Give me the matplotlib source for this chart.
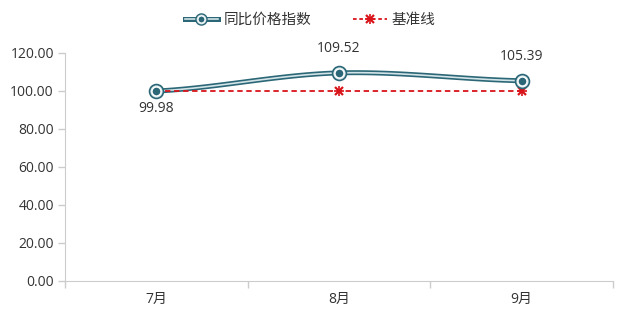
import numpy as np
import matplotlib
matplotlib.use("Agg")
import matplotlib.pyplot as plt
from matplotlib.lines import Line2D
from matplotlib.legend_handler import HandlerTuple

plt.rcParams['font.family'] = ['Open Sans', 'Noto Sans CJK SC', 'DejaVu Sans']

categories = ['7月', '8月', '9月']
index_values = [99.98, 109.52, 105.39]
baseline_values = [100, 100, 100]
yticks = [0, 20, 40, 60, 80, 100, 120]

teal = '#2b6776'
light = '#d3e4e8'
red = '#d9141a'
textc = '#333333'

fig = plt.figure(figsize=(6.23, 3.15), dpi=100)
ax = fig.add_axes([65/623, 1-281/315, (613-65)/623, (281-53)/315])

x = np.arange(len(categories))
y = np.array(index_values, dtype=float)

# smooth curve (Catmull-Rom style Hermite)
def smooth(xp, yp, n=60, k=0.5):
    xs, ys = [], []
    m = np.zeros_like(yp)
    for i in range(len(yp)):
        if i == 0:
            m[i] = (yp[1] - yp[0]) * k
        elif i == len(yp) - 1:
            m[i] = (yp[-1] - yp[-2]) * k
        else:
            m[i] = (yp[i+1] - yp[i-1]) / 2
    for i in range(len(yp) - 1):
        t = np.linspace(0, 1, n)
        h00 = 2*t**3 - 3*t**2 + 1
        h10 = t**3 - 2*t**2 + t
        h01 = -2*t**3 + 3*t**2
        h11 = t**3 - t**2
        ys.append(h00*yp[i] + h10*m[i] + h01*yp[i+1] + h11*m[i+1])
        xs.append(xp[i] + t*(xp[i+1]-xp[i]))
    return np.concatenate(xs), np.concatenate(ys)

sx, sy = smooth(x.astype(float), y)
ax.plot(sx, sy, color=teal, lw=3.6, solid_capstyle='round', zorder=3)
ax.plot(sx, sy, color=light, lw=1.2, solid_capstyle='round', zorder=4)

ax.plot(x, baseline_values, color=red, lw=1.3, ls=(0, (3, 2)), zorder=5)
ax.plot(x, baseline_values, ls='none', marker='x', ms=6, mew=1.6, color=red, zorder=6)
ax.plot(x, baseline_values, ls='none', marker='+', ms=7.5, mew=1.2, color=red, zorder=6)

ax.plot(x, y, ls='none', marker='o', ms=10, mfc=light, mec=teal, mew=1.2, zorder=7)
ax.plot(x, y, ls='none', marker='o', ms=6.5, mfc=teal, mec='white', mew=1.0, zorder=8)

for xi, yi in zip(x, y):
    if yi < 100.5:
        ax.annotate(f'{yi:.2f}', (xi, yi), xytext=(0, -7), textcoords='offset points',
                    ha='center', va='top', fontsize=10, color=textc, zorder=9)
    else:
        ax.annotate(f'{yi:.2f}', (xi, yi), xytext=(0, 12), textcoords='offset points',
                    ha='center', va='bottom', fontsize=10, color=textc, zorder=9)

ax.set_xlim(-0.5, len(categories) - 0.5)
ax.set_ylim(0, 120)
ax.set_yticks(yticks)
ax.set_yticklabels([f'{v:.2f}' for v in yticks], fontsize=10, color=textc)
ax.set_xticks(x)
ax.set_xticklabels(categories, fontsize=10, color=textc)
ax.tick_params(axis='x', length=0, pad=8)
ax.set_xticks(np.arange(len(categories) + 1) - 0.5, minor=True)
ax.tick_params(axis='x', which='minor', length=5, color='#cccccc', width=1)
ax.tick_params(axis='y', length=5, color='#cccccc', width=1, pad=3)

for s in ['top', 'right']:
    ax.spines[s].set_visible(False)
ax.spines['left'].set_color('#cccccc')
ax.spines['bottom'].set_color('#cccccc')

# legend
h1a = Line2D([], [], color=teal, lw=3.6)
h1b = Line2D([], [], color=light, lw=1.2)
h1c = Line2D([], [], ls='none', marker='o', ms=8, mfc=light, mec=teal, mew=1.0)
h1d = Line2D([], [], ls='none', marker='o', ms=5, mfc=teal, mec='white', mew=0.8)
h2a = Line2D([], [], color=red, lw=1.3, ls=(0, (2, 1.5)))
h2b = Line2D([], [], ls='none', color=red, marker='x', ms=6, mew=1.6)
h2c = Line2D([], [], ls='none', color=red, marker='+', ms=7.5, mew=1.2)
fig.legend([(h1a, h1b, h1c, h1d), (h2a, h2b, h2c)], ['同比价格指数', '基准线'], loc='upper center',
           bbox_to_anchor=(0.498, 1.0), ncol=2, frameon=False, fontsize=10.5,
           handler_map={tuple: HandlerTuple(ndivide=1, pad=0)},
           handlelength=2.3, columnspacing=2.9, handletextpad=0.35,
           labelcolor=textc)

fig.savefig('out.png', dpi=100)
